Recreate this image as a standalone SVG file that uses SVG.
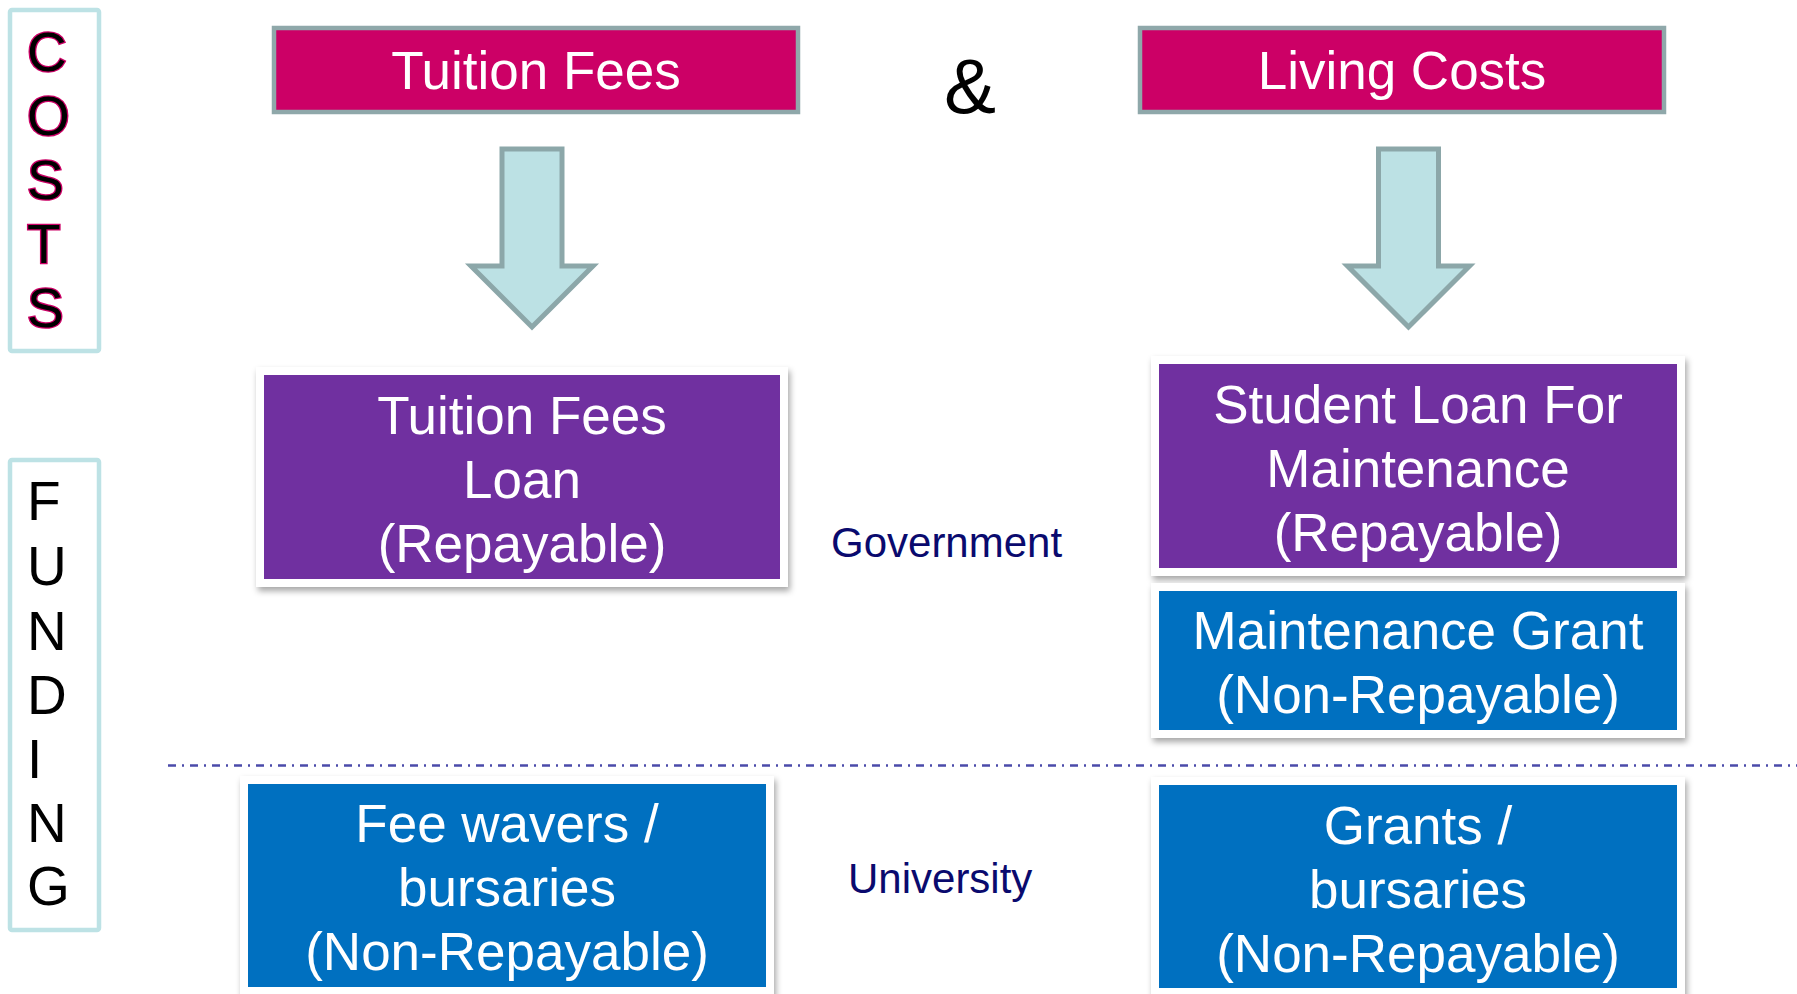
<svg xmlns="http://www.w3.org/2000/svg" width="1797" height="994" viewBox="0 0 1797 994">
<defs>
<filter id="sh" x="-5%" y="-5%" width="110%" height="115%">
<feDropShadow dx="2" dy="4" stdDeviation="3" flood-color="#000" flood-opacity="0.35"/>
</filter>
</defs>
<style>
text{font-family:"Liberation Sans",Arial,sans-serif}
.side{fill:none;stroke:#BDE2E5;stroke-width:4.5}
.costs{font-size:55px;fill:#000;stroke:#CC0066;stroke-width:2.6;paint-order:stroke}
.fund{font-size:55px;fill:#000}
.hdr{fill:#CC0066;stroke:#8FA8AA;stroke-width:4.5}
.hdrt{font-size:53px;fill:#fff;text-anchor:middle}
.frame{fill:#fff;filter:url(#sh)}
.pur{fill:#7030A0}
.blu{fill:#0070C0}
.bt{font-size:53px;fill:#fff;text-anchor:middle}
.lab{font-size:42px;fill:#0A0A6E}
.arr{fill:#BCE1E4;stroke:#8CA7A9;stroke-width:5;stroke-linejoin:miter}
</style>
<rect width="1797" height="994" fill="#fff"/>

<g id="costs-label">
<rect class="side" x="10" y="10" width="89" height="341" rx="2"/>
<text class="costs" x="27" y="71">C</text>
<text class="costs" x="27" y="135">O</text>
<text class="costs" x="27" y="199">S</text>
<text class="costs" x="27" y="263">T</text>
<text class="costs" x="27" y="327">S</text>
</g>

<g id="funding-label">
<rect class="side" x="10" y="460" width="89" height="470" rx="2"/>
<text class="fund" x="27" y="520">F</text>
<text class="fund" x="27" y="585">U</text>
<text class="fund" x="27" y="650">N</text>
<text class="fund" x="27" y="714">D</text>
<text class="fund" x="27" y="778">I</text>
<text class="fund" x="27" y="842">N</text>
<text class="fund" x="27" y="905">G</text>
</g>

<g id="tuition-fees">
<rect class="hdr" x="274" y="28" width="524" height="84"/>
<text class="hdrt" x="536" y="89">Tuition Fees</text>
</g>

<g id="ampersand">
<text x="970" y="113" style="font-size:78px;fill:#000;text-anchor:middle">&amp;</text>
</g>

<g id="living-costs">
<rect class="hdr" x="1140" y="28" width="524" height="84"/>
<text class="hdrt" x="1402" y="89">Living Costs</text>
</g>

<g id="connectors">
<polygon class="arr" points="502,149 562,149 562,266 593,266 532,327 471,266 502,266"/>
<polygon class="arr" points="1378.5,149 1438.5,149 1438.5,266 1469.5,266 1408.5,327 1347.5,266 1378.5,266"/>
</g>

<g id="tuition-fees-loan">
<rect class="frame" x="256" y="367" width="532" height="220"/>
<rect class="pur" x="264" y="375" width="516" height="204"/>
<text class="bt" x="522" y="434">Tuition Fees</text>
<text class="bt" x="522" y="498">Loan</text>
<text class="bt" x="522" y="562">(Repayable)</text>
</g>

<g id="student-loan">
<rect class="frame" x="1151" y="356" width="534" height="220"/>
<rect class="pur" x="1159" y="364" width="518" height="204"/>
<text class="bt" x="1418" y="423">Student Loan For</text>
<text class="bt" x="1418" y="487">Maintenance</text>
<text class="bt" x="1418" y="551">(Repayable)</text>
</g>

<g id="maintenance-grant">
<rect class="frame" x="1151" y="583" width="534" height="155"/>
<rect class="blu" x="1159" y="591" width="518" height="139"/>
<text class="bt" x="1418" y="649">Maintenance Grant</text>
<text class="bt" x="1418" y="713">(Non-Repayable)</text>
</g>

<g id="government">
<text class="lab" x="831" y="557">Government</text>
</g>

<g id="divider">
<line x1="168" y1="765.5" x2="1797" y2="765.5" stroke="#4B4BAA" stroke-width="2.5" stroke-dasharray="8 6 2 6"/>
</g>

<g id="fee-wavers">
<rect class="frame" x="240" y="776" width="534" height="230"/>
<rect class="blu" x="248" y="784" width="518" height="203"/>
<text class="bt" x="507" y="842">Fee wavers /</text>
<text class="bt" x="507" y="906">bursaries</text>
<text class="bt" x="507" y="970">(Non-Repayable)</text>
</g>

<g id="university">
<text class="lab" x="848" y="893">University</text>
</g>

<g id="grants">
<rect class="frame" x="1151" y="777" width="534" height="230"/>
<rect class="blu" x="1159" y="785" width="518" height="203"/>
<text class="bt" x="1418" y="844">Grants /</text>
<text class="bt" x="1418" y="908">bursaries</text>
<text class="bt" x="1418" y="972">(Non-Repayable)</text>
</g>
</svg>
